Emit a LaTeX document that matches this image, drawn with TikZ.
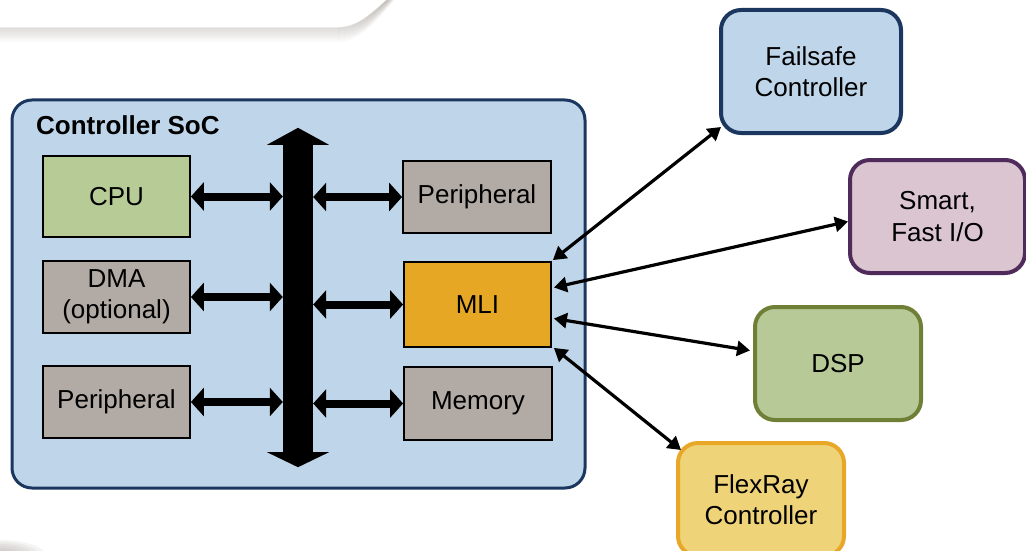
\documentclass[tikz,border=0pt]{standalone}
\usepackage{fontspec}
\setmainfont{Liberation Sans}
\usetikzlibrary{arrows.meta,calc}

\definecolor{socfill}{HTML}{BFD6EA}
\definecolor{navy}{HTML}{1C375F}
\definecolor{cpugreen}{HTML}{B7CB97}
\definecolor{boxgray}{HTML}{B1AAA5}
\definecolor{mliorange}{HTML}{E6A724}
\definecolor{smartfill}{HTML}{DAC5D1}
\definecolor{smartline}{HTML}{4F2B5C}
\definecolor{dspfill}{HTML}{B6C997}
\definecolor{dspline}{HTML}{6F7F36}
\definecolor{flexfill}{HTML}{EED379}
\definecolor{flexline}{HTML}{E8A727}
\definecolor{shadowcol}{HTML}{A8A29C}

\tikzset{
  txt/.style={font=\fontsize{26}{31.5}\selectfont, align=center, text=black},
  inner/.style={txt, draw=black, line width=1.8pt, inner sep=0pt},
  outer/.style={txt, rounded corners=20pt, line width=4pt, inner sep=0pt},
  busarrow/.style={line width=8pt, {Triangle[width=28pt,length=13pt]}-{Triangle[width=28pt,length=13pt]}},
  linkarrow/.style={line width=3.2pt, {Triangle[width=15pt,length=13pt]}-{Triangle[width=15pt,length=13pt]}},
}

\begin{document}
\begin{tikzpicture}[x=1pt,y=-1pt]
\useasboundingbox (0,0) rectangle (1026,551);

% soft shadow under the header shape
\foreach \i [evaluate=\i as \op using {0.32*(1-\i/15)}] in {0,...,14}
  \draw[shadowcol, line width=1.3pt, opacity=\op]
    (0,28+\i) -- (335,28+\i) .. controls (356,28+\i) and (367,18+\i) .. (387+0.5*\i,0);
% soft shadow in the lower left corner
\foreach \i [evaluate=\i as \op using {0.12}] in {0,...,5}
  \fill[shadowcol, opacity=\op] (0,556) ellipse ({46-6*\i} and {16-2*\i});

% SoC container
\node (soc) [draw=navy, fill=socfill, line width=3pt, rounded corners=20pt,
  minimum width=573pt, minimum height=388pt] at (298.5,294) {};
\node (title) [anchor=west, font=\fontsize{26}{31}\selectfont\bfseries, inner sep=0pt] at (36,125) {Controller SoC};

% system bus
\node (bus) [fill=black, minimum width=30pt, minimum height=307pt, inner sep=0pt] at (298,298.5) {};
\fill ($(bus.north)+(-31,0)$) -- ($(bus.north)+(31,0)$) -- ($(bus.north)+(0,-17)$) -- cycle;
\fill ($(bus.south)+(-31,0)$) -- ($(bus.south)+(31,0)$) -- ($(bus.south)+(0,15)$) -- cycle;

% on-chip blocks
\node (cpu)  [inner, fill=cpugreen,  minimum width=147pt, minimum height=81pt] at (116.5,196.5) {CPU};
\node (dma)  [inner, fill=boxgray,   minimum width=147pt, minimum height=72pt] at (116.5,297) {DMA\\(optional)};
\node (perl) [inner, fill=boxgray,   minimum width=147pt, minimum height=72pt] at (116.5,402) {Peripheral};
\node (perr) [inner, fill=boxgray,   minimum width=148pt, minimum height=72pt] at (477,197) {Peripheral};
\node (mli)  [inner, fill=mliorange, minimum width=147pt, minimum height=85pt] at (477.5,304.5) {MLI};
\node (mem)  [inner, fill=boxgray,   minimum width=148pt, minimum height=73pt] at (478,403.5) {Memory};

% bus connections
\draw[busarrow] (cpu.east)  -- (cpu.east -| bus.west);
\draw[busarrow] (dma.east)  -- (dma.east -| bus.west);
\draw[busarrow] (perl.east) -- (perl.east -| bus.west);
\draw[busarrow] (perr.west -| bus.east) -- (perr.west);
\draw[busarrow] (mli.west -| bus.east)  -- (mli.west);
\draw[busarrow] (mem.west -| bus.east)  -- (mem.west);

% external devices
\node (fail)  [outer, draw=navy,       fill=socfill,   minimum width=180pt, minimum height=123pt] at (811,71.5) {Failsafe\\Controller};
\node (smart) [outer, draw=smartline,  fill=smartfill, minimum width=175pt, minimum height=113pt] at (937.5,216.5) {Smart,\\Fast I/O};
\node (dsp)   [outer, draw=dspline,    fill=dspfill,   minimum width=166pt, minimum height=113pt] at (838,363.5) {DSP};
\node (flex)  [outer, draw=flexline,   fill=flexfill,  minimum width=166pt, minimum height=113pt] at (761,499.5) {FlexRay\\Controller};

% MLI links
\draw[linkarrow] ([shift={(1,-1)}]mli.north east) -- ([shift={(2,-8)}]fail.south west);
\draw[linkarrow] ([shift={(2,-17)}]mli.east) -- ([shift={(0,5)}]smart.west);
\draw[linkarrow] ([shift={(2,14)}]mli.east) -- ([shift={(-3,-13)}]dsp.west);
\draw[linkarrow] ([shift={(2,0)}]mli.south east) -- ([shift={(5,9)}]flex.north west);
\end{tikzpicture}
\end{document}
